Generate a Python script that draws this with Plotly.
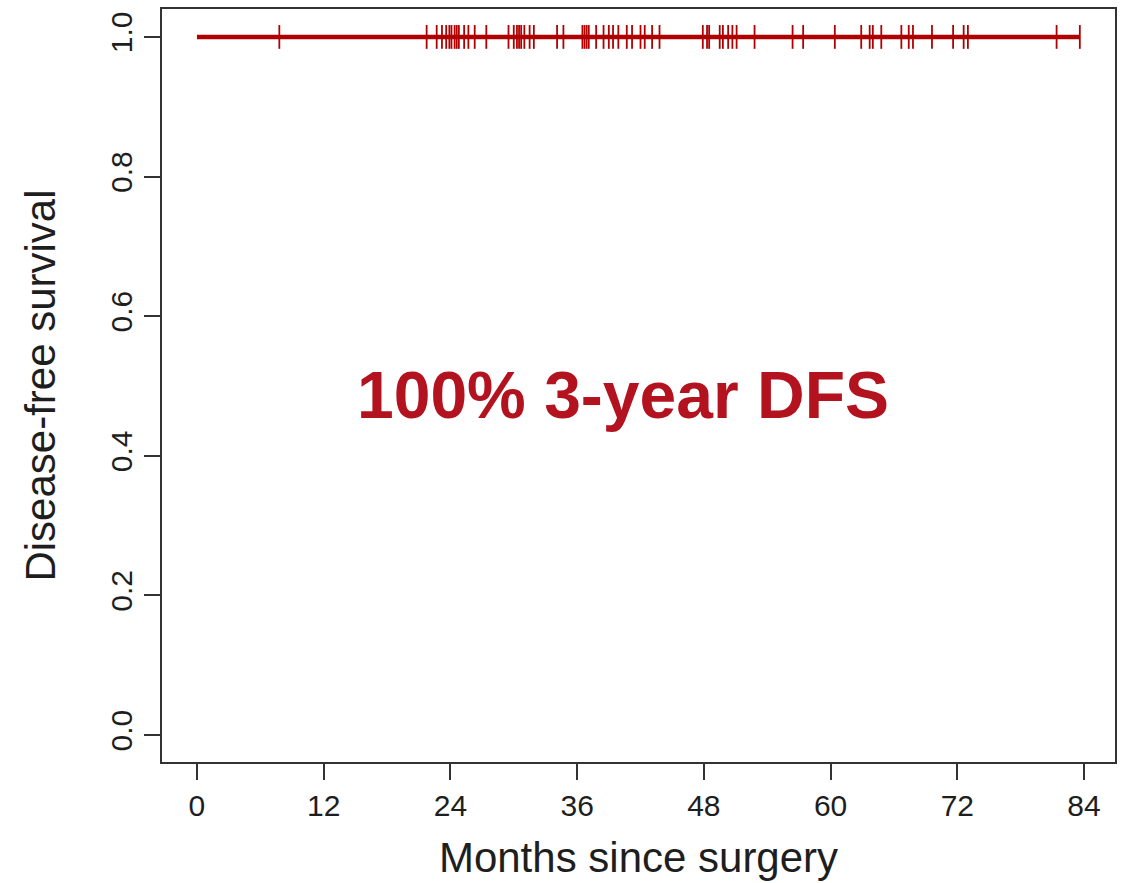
import plotly.graph_objects as go

# Censoring times (months since surgery); no events, so survival stays at 1.0
censor_months = [
    7.8, 21.75, 22.7, 23.2, 23.6, 23.9, 24.1, 24.4, 24.6, 24.8, 25.3, 25.7,
    26.3, 27.4, 29.5, 30.0, 30.3, 30.5, 30.7, 31.0, 31.5, 31.9, 34.1, 34.7,
    36.5, 36.7, 36.9, 37.1, 37.8, 38.5, 39.0, 39.4, 39.9, 40.7, 41.2, 42.0,
    42.4, 43.1, 43.8, 47.9, 48.3, 48.5, 49.5, 49.8, 50.3, 50.7, 51.1, 52.8,
    56.4, 57.4, 60.4, 62.9, 63.7, 64.0, 64.8, 66.7, 67.4, 67.8, 69.6, 71.6,
    72.6, 73.0, 81.4, 83.6,
]
survival = [1.0] * len(censor_months)

x_ticks = [0, 12, 24, 36, 48, 60, 72, 84]
y_ticks = [0.0, 0.2, 0.4, 0.6, 0.8, 1.0]
y_tick_text = ["0.0", "0.2", "0.4", "0.6", "0.8", "1.0"]

curve_color = "#B00000"
axis_color = "#333333"
text_color = "#1E1E1E"
font_family = "Liberation Sans, Arial"

fig = go.Figure()

# Kaplan-Meier step curve
fig.add_trace(go.Scatter(
    x=[0] + censor_months,
    y=[1.0] + survival,
    mode="lines",
    line=dict(color=curve_color, width=4.5, shape="hv"),
    hoverinfo="skip",
    showlegend=False,
))

# Censor marks
fig.add_trace(go.Scatter(
    x=censor_months,
    y=survival,
    mode="markers",
    marker=dict(symbol="line-ns", size=17,
                line=dict(color=curve_color, width=1.8)),
    showlegend=False,
))

fig.add_annotation(
    x=40.3, y=0.487, xref="x", yref="y",
    text="<b>100% 3-year DFS</b>",
    showarrow=False,
    font=dict(family="Liberation Sans Narrow, Arial Narrow, Liberation Sans, Arial",
              size=66, color="#B3121F"),
    xanchor="center", yanchor="middle",
)

fig.update_xaxes(
    range=[-3.31, 86.93],
    tickmode="array", tickvals=x_ticks,
    ticks="outside", ticklen=16, tickwidth=2, tickcolor=axis_color,
    showline=True, linecolor=axis_color, linewidth=2, mirror=True,
    showgrid=False, zeroline=False,
    tickfont=dict(family=font_family, size=30, color=text_color),
    title=dict(text="Months since surgery", standoff=22,
               font=dict(family=font_family, size=42, color=text_color)),
)
fig.update_yaxes(
    range=[-0.0386, 1.04],
    tickmode="array", tickvals=y_ticks, ticktext=y_tick_text,
    tickangle=-90,
    ticks="outside", ticklen=16, tickwidth=2, tickcolor=axis_color,
    showline=True, linecolor=axis_color, linewidth=2, mirror=True,
    showgrid=False, zeroline=False,
    tickfont=dict(family=font_family, size=30, color=text_color),
    title=dict(text="Disease-free survival", standoff=36,
               font=dict(family=font_family, size=42, color=text_color)),
)

fig.update_layout(
    width=1127, height=883,
    margin=dict(l=162, r=12, t=7, b=121),
    paper_bgcolor="white", plot_bgcolor="white",
    showlegend=False,
)

fig.write_html("out.html")
